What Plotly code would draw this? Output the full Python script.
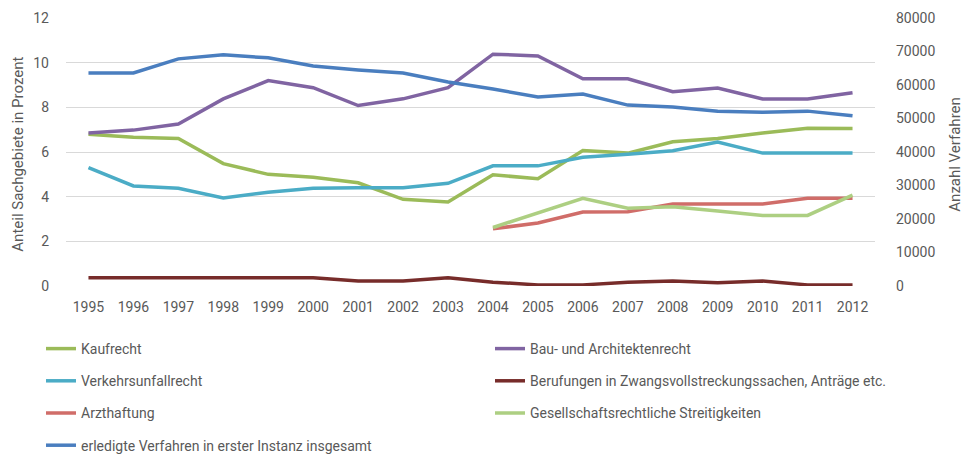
import plotly.graph_objects as go

years = [str(y) for y in range(1995, 2013)]

kaufrecht = [6.79, 6.66, 6.61, 5.48, 5.0, 4.87, 4.62, 3.88, 3.76, 4.98, 4.8, 6.07, 5.95, 6.46, 6.6, 6.85, 7.06, 7.05]
bau = [6.85, 6.98, 7.25, 8.38, 9.2, 8.88, 8.08, 8.38, 8.88, 10.38, 10.3, 9.28, 9.28, 8.7, 8.86, 8.37, 8.37, 8.65]
verkehr = [5.3, 4.48, 4.38, 3.94, 4.2, 4.38, 4.4, 4.4, 4.6, 5.38, 5.38, 5.76, 5.9, 6.06, 6.45, 5.95, 5.95, 5.95]
berufungen = [0.37, 0.37, 0.37, 0.37, 0.37, 0.37, 0.22, 0.22, 0.37, 0.17, 0.05, 0.05, 0.17, 0.22, 0.15, 0.22, 0.05, 0.05]
arzthaftung = [None] * 9 + [2.56, 2.82, 3.31, 3.33, 3.67, 3.67, 3.67, 3.93, 3.93]
gesellschaft = [None] * 9 + [2.62, 3.27, 3.93, 3.48, 3.55, 3.36, 3.16, 3.16, 4.07]
erledigt = [63600, 63600, 67800, 69000, 68100, 65700, 64500, 63600, 60900, 58800, 56400, 57300, 54000, 53400, 52200, 51900, 52200, 50800]

y_ticks_left = [0, 2, 4, 6, 8, 10, 12]
y_ticks_right = [0, 10000, 20000, 30000, 40000, 50000, 60000, 70000, 80000]

FONT = "Roboto, 'Open Sans', sans-serif"
GRAY = "#595959"

fig = go.Figure()

series = [
    ("Kaufrecht", kaufrecht, "#9BBB59", "y", "legend"),
    ("Bau- und Architektenrecht", bau, "#8064A2", "y", "legend2"),
    ("Verkehrsunfallrecht", verkehr, "#4BACC6", "y", "legend"),
    ("Berufungen in Zwangsvollstreckungssachen, Anträge etc.", berufungen, "#772C2A", "y", "legend2"),
    ("Arzthaftung", arzthaftung, "#D06D69", "y", "legend"),
    ("Gesellschaftsrechtliche Streitigkeiten", gesellschaft, "#ADCF82", "y", "legend2"),
    ("erledigte Verfahren in erster Instanz insgesamt", erledigt, "#4A7EBF", "y2", "legend"),
]

for i, (name, vals, color, yax, leg) in enumerate(series):
    fig.add_trace(go.Scatter(
        x=years, y=vals, name=name, mode="lines",
        line=dict(color=color, width=3.5),
        yaxis=yax, legend=leg, legendgroup=f"g{i}",
        connectgaps=False,
    ))

# page body has an 8px margin, so the figure is drawn 8px smaller
fig.update_layout(
    width=963, height=446,
    margin=dict(l=58, r=96, t=10, b=168, autoexpand=False),
    paper_bgcolor="white", plot_bgcolor="white",
    font=dict(family=FONT, size=14, color=GRAY),
    showlegend=True,
    xaxis=dict(
        type="category", range=[-0.5, 17.5],
        showgrid=False, zeroline=False, showline=False,
        ticks="", tickfont=dict(size=14, color=GRAY),
        ticklabelstandoff=11,
    ),
    yaxis=dict(
        range=[0, 12], tickvals=y_ticks_left,
        showgrid=True, gridcolor="#D9D9D9", gridwidth=1,
        zeroline=False, showline=False, ticks="",
        tickfont=dict(size=14, color=GRAY), ticklabelstandoff=16,
    ),
    yaxis2=dict(
        range=[0, 80000], tickvals=y_ticks_right, tickformat="d",
        overlaying="y", side="right", showgrid=False,
        zeroline=False, showline=False, ticks="",
        tickfont=dict(size=14, color=GRAY), ticklabelstandoff=20,
    ),
    legend=dict(
        x=(41 - 66) / 809, y=(286 - 333) / 268, xanchor="left", yanchor="top",
        orientation="v", tracegroupgap=11,
        font=dict(size=14, color=GRAY, family=FONT),
        bgcolor="rgba(0,0,0,0)",
    ),
    legend2=dict(
        x=(490 - 66) / 809, y=(286 - 333) / 268, xanchor="left", yanchor="top",
        orientation="v", tracegroupgap=11,
        font=dict(size=14, color=GRAY, family=FONT),
        bgcolor="rgba(0,0,0,0)",
    ),
    annotations=[
        dict(text="Anteil Sachgebiete in Prozent", textangle=-90,
             xref="paper", yref="paper", x=(18 - 66) / 809, y=0.49,
             xanchor="center", yanchor="middle", showarrow=False, borderpad=0,
             font=dict(size=15, color=GRAY)),
        dict(text="Anzahl Verfahren", textangle=-90,
             xref="paper", yref="paper", x=(955 - 66) / 809, y=0.49,
             xanchor="center", yanchor="middle", showarrow=False, borderpad=0,
             font=dict(size=15, color=GRAY)),
    ],
)

fig.write_html("out.html")
